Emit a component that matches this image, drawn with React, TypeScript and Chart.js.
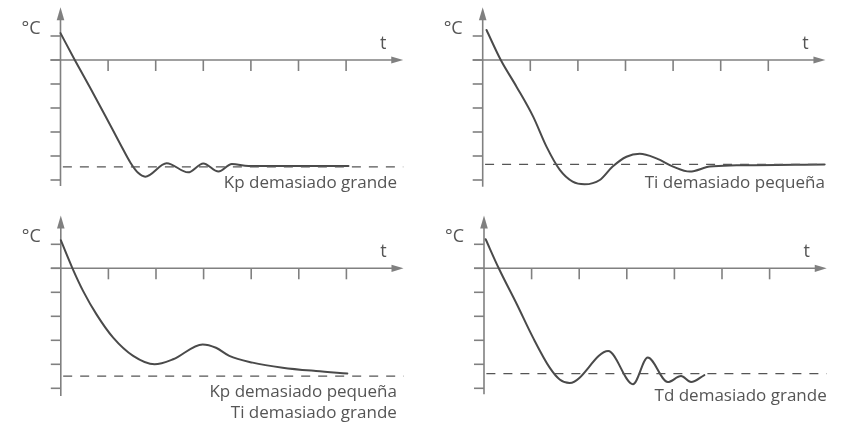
import React, { useEffect, useRef } from "react";
import { Chart, registerables } from "chart.js";

Chart.register(...registerables);

// ---- shared axis data ----
const yTicks = [1, 0, -1, -2, -3, -4, -5];
const xTicks = [1, 2, 3, 4, 5, 6];
const yAxisLabel = "°C";
const xAxisLabel = "t";

// ---- panel 1: Kp demasiado grande ----
const p1X = [0, 0.3, 0.62, 0.94, 1.26, 1.47, 1.63, 1.78, 2.23, 2.68, 3.0, 3.32, 3.6, 3.95, 6.05];
const p1Y = [1.12, 0, -1.15, -2.32, -3.52, -4.28, -4.7, -4.86, -4.3, -4.68, -4.31, -4.65, -4.33, -4.42, -4.42];
const p1Setpoint = -4.45;
const p1Labels = ["Kp demasiado grande"];

// ---- panel 2: Ti demasiado pequeña ----
const p2X = [0.08, 0.38, 0.71, 1.06, 1.34, 1.62, 1.89, 2.14, 2.46, 2.73, 3.02, 3.3, 3.65, 4.0, 4.35, 4.77, 5.33, 7.18];
const p2Y = [1.25, 0, -1.11, -2.36, -3.61, -4.58, -5.07, -5.18, -5.0, -4.44, -4.03, -3.91, -4.1, -4.44, -4.65, -4.44, -4.39, -4.35];
const p2Setpoint = -4.35;
const p2Labels = ["Ti demasiado pequeña"];

// ---- panel 3: Kp demasiado pequeña / Ti demasiado grande ----
const p3X = [0, 0.245, 0.47, 0.75, 1.1, 1.52, 1.97, 2.36, 2.98, 3.26, 3.54, 4.03, 4.66, 5.36, 6.02];
const p3Y = [1.17, 0, -0.95, -1.92, -2.89, -3.65, -4.0, -3.79, -3.17, -3.31, -3.65, -3.93, -4.14, -4.28, -4.38];
const p3Setpoint = -4.49;
const p3Labels = ["Kp demasiado pequeña", "Ti demasiado grande"];

// ---- panel 4: Td demasiado grande ----
const p4X = [0.035, 0.31, 0.69, 1.03, 1.38, 1.59, 1.8, 2.61, 3.13, 3.44, 3.86, 4.14, 4.35, 4.63];
const p4Y = [1.21, 0, -1.5, -2.89, -4.14, -4.63, -4.78, -3.45, -4.83, -3.72, -4.74, -4.49, -4.74, -4.45];
const p4Setpoint = -4.39;
const p4Labels = ["Td demasiado grande"];

const X_UNIT = 47.6;
const Y_UNIT = 24;
const AXIS_COLOR = "#808080";
const CURVE_COLOR = "#4a4a4a";
const TEXT_COLOR = "#555555";
const FONT = '"Open Sans", "Noto Sans", sans-serif';

type PanelProps = {
  left: number;
  top: number;
  width: number;
  height: number;
  ox: number;
  oy: number;
  xs: number[];
  ys: number[];
  setpoint: number;
  labels: string[];
  labelX: number;
  labelYs: number[];
  axisBottom: number;
};

function Panel(p: PanelProps) {
  const ref = useRef<HTMLCanvasElement | null>(null);
  useEffect(() => {
    const canvas = ref.current;
    if (!canvas) return;
    const xMin = -p.ox / X_UNIT;
    const xMax = (p.width - p.ox) / X_UNIT;
    const yMax = p.oy / Y_UNIT;
    const yMin = -(p.height - p.oy) / Y_UNIT;
    const yTop = 2.2;
    const xEnd = 7.2;

    const axesPlugin = {
      id: "axesPlugin",
      beforeDatasetsDraw(chart: any) {
        const ctx = chart.ctx;
        const sx = chart.scales.x;
        const sy = chart.scales.y;
        const x0 = sx.getPixelForValue(0);
        const y0 = sy.getPixelForValue(0);
        ctx.save();
        ctx.strokeStyle = AXIS_COLOR;
        ctx.fillStyle = AXIS_COLOR;
        ctx.lineWidth = 1.6;
        // y axis
        const yTipPx = sy.getPixelForValue(yTop);
        ctx.beginPath();
        ctx.moveTo(x0, sy.getPixelForValue(p.axisBottom));
        ctx.lineTo(x0, yTipPx + 8);
        ctx.stroke();
        // x axis
        const xTipPx = sx.getPixelForValue(xEnd);
        ctx.beginPath();
        ctx.moveTo(x0 - 10, y0);
        ctx.lineTo(xTipPx - 8, y0);
        ctx.stroke();
        // y ticks
        yTicks.forEach((v) => {
          const yy = sy.getPixelForValue(v);
          ctx.beginPath();
          ctx.moveTo(x0 - 10, yy);
          ctx.lineTo(x0, yy);
          ctx.stroke();
        });
        // x ticks
        xTicks.forEach((v) => {
          const xx = sx.getPixelForValue(v);
          ctx.beginPath();
          ctx.moveTo(xx, y0);
          ctx.lineTo(xx, y0 + 11);
          ctx.stroke();
        });
        // arrow heads
        ctx.beginPath();
        ctx.moveTo(x0, yTipPx);
        ctx.lineTo(x0 - 3.8, yTipPx + 13);
        ctx.lineTo(x0 + 3.8, yTipPx + 13);
        ctx.closePath();
        ctx.fill();
        ctx.beginPath();
        ctx.moveTo(xTipPx, y0);
        ctx.lineTo(xTipPx - 12, y0 - 3.6);
        ctx.lineTo(xTipPx - 12, y0 + 3.6);
        ctx.closePath();
        ctx.fill();
        // axis labels
        ctx.fillStyle = TEXT_COLOR;
        ctx.font = `18px ${FONT}`;
        ctx.textBaseline = "middle";
        ctx.textAlign = "right";
        ctx.fillText(yAxisLabel, x0 - 20, sy.getPixelForValue(1) - 7);
        ctx.textAlign = "center";
        ctx.fillText(xAxisLabel, xTipPx - 20, y0 - 16);
        // condition labels
        ctx.font = `17px ${FONT}`;
        ctx.textAlign = "right";
        p.labels.forEach((t, i) => {
          ctx.fillText(t, sx.getPixelForValue(p.labelX), sy.getPixelForValue(p.labelYs[i]));
        });
        ctx.restore();
      },
    };

    const chart = new Chart(canvas, {
      type: "line",
      data: {
        datasets: [
          {
            data: [
              { x: 0.05, y: p.setpoint },
              { x: xEnd, y: p.setpoint },
            ],
            borderColor: "#555555",
            borderWidth: 1.3,
            borderDash: [9, 8],
            pointRadius: 0,
            tension: 0,
          },
          {
            data: p.xs.map((x, i) => ({ x, y: p.ys[i] })),
            borderColor: CURVE_COLOR,
            borderWidth: 2,
            pointRadius: 0,
            cubicInterpolationMode: "monotone",
            borderCapStyle: "round",
            borderJoinStyle: "round",
          },
        ],
      },
      options: {
        animation: false,
        responsive: false,
        maintainAspectRatio: false,
        layout: { padding: 0 },
        plugins: { legend: { display: false }, tooltip: { enabled: false }, title: { display: false } },
        events: [],
        scales: {
          x: { type: "linear", min: xMin, max: xMax, display: false },
          y: { type: "linear", min: yMin, max: yMax, display: false },
        },
      },
      plugins: [axesPlugin],
    } as any);
    return () => chart.destroy();
  }, []);
  return (
    <canvas
      ref={ref}
      width={p.width}
      height={p.height}
      style={{ position: "absolute", left: p.left, top: p.top, width: p.width, height: p.height }}
    />
  );
}

export default function App() {
  return (
    <div style={{ position: "fixed", left: 0, top: 0, width: 841, height: 423, background: "#ffffff" }}>
      <Panel left={0} top={0} width={420} height={211} ox={60.5} oy={60} xs={p1X} ys={p1Y}
        setpoint={p1Setpoint} labels={p1Labels} labelX={7.07} labelYs={[-5.125]} axisBottom={-5.25} />
      <Panel left={420} top={0} width={421} height={211} ox={62.7} oy={60} xs={p2X} ys={p2Y}
        setpoint={p2Setpoint} labels={p2Labels} labelX={7.19} labelYs={[-5.125]} axisBottom={-5.28} />
      <Panel left={0} top={211} width={420} height={212} ox={60.8} oy={57.3} xs={p3X} ys={p3Y}
        setpoint={p3Setpoint} labels={p3Labels} labelX={7.06} labelYs={[-5.18, -6.02]} axisBottom={-5.32} />
      <Panel left={420} top={211} width={421} height={212} ox={64} oy={57.3} xs={p4X} ys={p4Y}
        setpoint={p4Setpoint} labels={p4Labels} labelX={7.2} labelYs={[-5.32]} axisBottom={-5.25} />
    </div>
  );
}
